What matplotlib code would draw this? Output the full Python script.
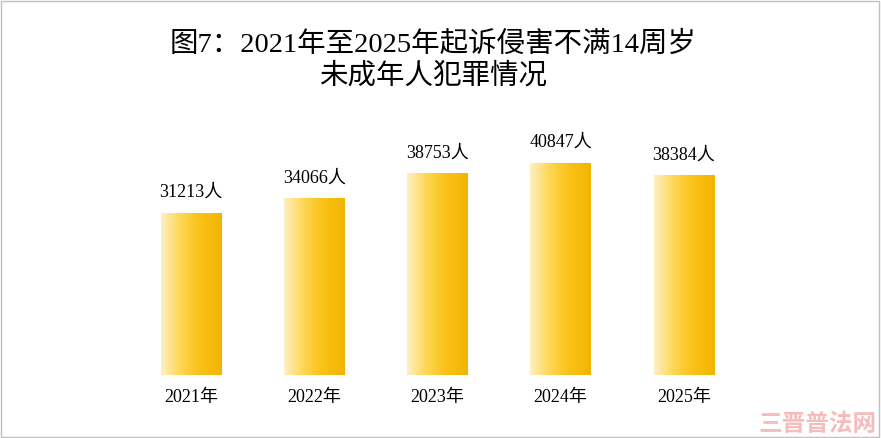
import numpy as np
import matplotlib.pyplot as plt
from matplotlib.colors import LinearSegmentedColormap
from matplotlib.patches import Rectangle

plt.rcParams['font.family'] = ['Noto Sans CJK SC', 'DejaVu Sans']

years = ["2021年", "2022年", "2023年", "2024年", "2025年"]
counts = [31213, 34066, 38753, 40847, 38384]
title = "图7：2021年至2025年起诉侵害不满14周岁\n未成年人犯罪情况"

fig = plt.figure(figsize=(8.81, 4.38), dpi=100)
fig.patches.append(Rectangle((0.001, 0.002), 0.997, 0.995, transform=fig.transFigure,
                             fill=False, edgecolor="#bfbfbf", linewidth=1))
ax = fig.add_axes([129.4 / 881, 63 / 438, 616 / 881, 233.5 / 438])
ax.axis("off")

cmap = LinearSegmentedColormap.from_list(
    "gold", [(0, "#fdf0c4"), (0.3, "#ffd85a"), (0.6, "#fac41c"), (1, "#f2b400")])
grad = np.linspace(0, 1, 256).reshape(1, -1)
w = 0.49
for i, v in enumerate(counts):
    ax.imshow(grad, cmap=cmap, extent=(i - w / 2, i + w / 2, 0, v),
              aspect="auto", zorder=2)
    ax.text(i, v + 2300, f"{v}人", ha="center", va="bottom", fontsize=13,
            family=['Liberation Serif', 'Noto Sans CJK SC'])
    ax.text(i, -2700, years[i], ha="center", va="top", fontsize=13,
            family=['Liberation Serif', 'Noto Sans CJK SC'])
ax.set_xlim(-0.5, 4.5)
ax.set_ylim(0, 45000)

fig.text(433 / 881, 1 - 60 / 438, title, ha="center", va="center", fontsize=20.5,
         linespacing=1.25, family=['Liberation Serif', 'Noto Sans CJK SC'])
fig.text(0.995, 0.005, "三晋普法网", ha="right", va="bottom", fontsize=17,
         color="#f2a0a0", alpha=0.7, fontweight="bold")

fig.savefig("out.png", dpi=100)
